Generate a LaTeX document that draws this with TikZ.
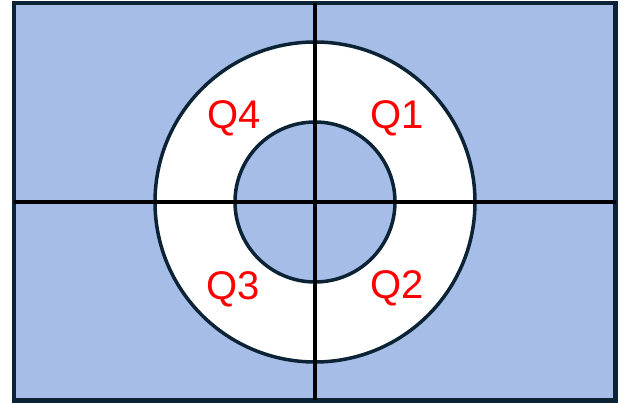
\documentclass[tikz,border=0pt]{standalone}
\usepackage{fontspec}
\setmainfont{Liberation Sans}
\definecolor{panelblue}{RGB}{166,189,232}
\definecolor{navy}{RGB}{12,35,54}
\definecolor{qred}{RGB}{255,0,0}
\begin{document}
\begin{tikzpicture}[x=1pt,y=-1pt,
  frame/.style={draw=navy,line width=4.5pt,fill=panelblue},
  ring/.style={draw=navy,line width=3.5pt},
  axis/.style={draw=black,line width=3.5pt},
  qlabel/.style={text=qred,font=\fontsize{40}{44}\selectfont,inner sep=0pt,anchor=base}]
\useasboundingbox (0,0) rectangle (630,403);
\coordinate (c) at (315,202);
\draw[frame] (14,3) rectangle (615.5,400.5);
\fill[white] (c) circle[radius=160];
\draw[ring,fill=panelblue] (c) circle[radius=80];
\draw[ring] (c) circle[radius=160];
\draw[axis] (315,3) -- (315,400.5);
\draw[axis] (14,202) -- (615.5,202);
\node[qlabel] (q4) at (234,129) {Q4};
\node[qlabel] (q1) at (397,129) {Q1};
\node[qlabel] (q3) at (233,300) {Q3};
\node[qlabel] (q2) at (397,299) {Q2};
\end{tikzpicture}
\end{document}
